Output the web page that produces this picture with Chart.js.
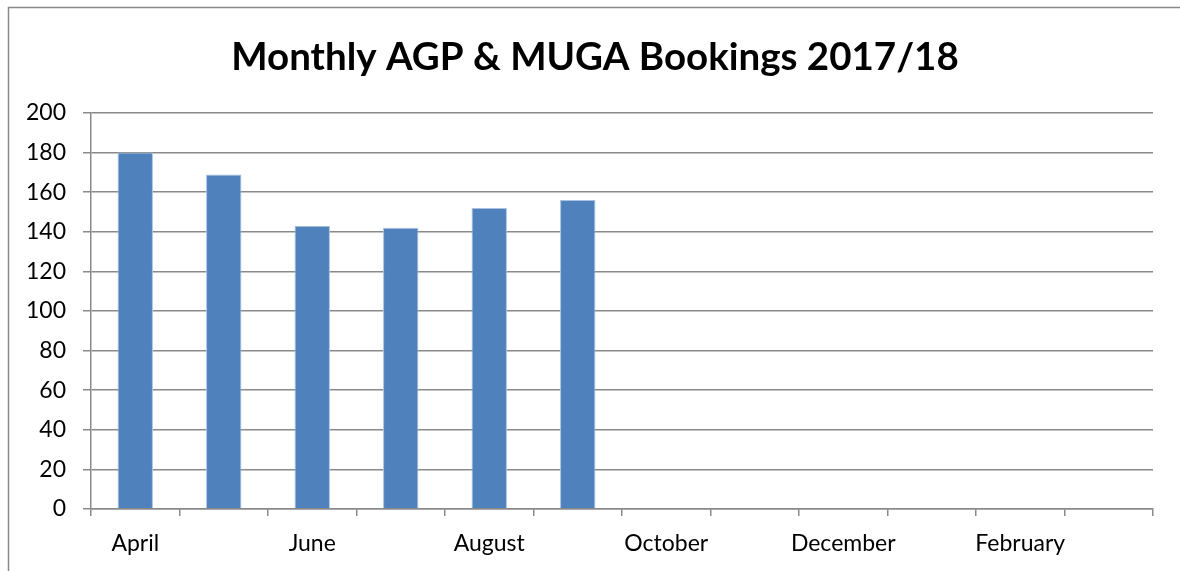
<!DOCTYPE html>
<html>
<head>
<meta charset="utf-8">
<script src="https://cdn.jsdelivr.net/npm/chart.js@4.4.0/dist/chart.umd.min.js"></script>
<style>
  html, body { margin: 0; padding: 0; background: #fff; }
  #wrap { width: 1180px; height: 571px; }
</style>
</head>
<body>
<div id="wrap"><canvas id="bookings-chart" width="1180" height="571"></canvas></div>
<script>
const titleText = 'Monthly AGP & MUGA Bookings 2017/18';
const months = ['April', 'May', 'June', 'July', 'August', 'September',
  'October', 'November', 'December', 'January', 'February', 'March'];
const bookings = [180, 169, 143, 142, 152, 156, null, null, null, null, null, null];
const yTicks = [0, 20, 40, 60, 80, 100, 120, 140, 160, 180, 200];

const gridGrey = '#8a8a8a';
const fontFamily = 'Lato, "Open Sans", sans-serif';

// outer frame + title drawn on the canvas
const framePlugin = {
  id: 'frame',
  beforeDraw(chart) {
    const ctx = chart.ctx;
    ctx.save();
    ctx.fillStyle = '#fff';
    ctx.fillRect(0, 0, chart.width, chart.height);
    ctx.strokeStyle = gridGrey;
    ctx.lineWidth = 1.5;
    ctx.strokeRect(8.5, 7.5, chart.width + 20, chart.height + 20);
    ctx.restore();
  },
  afterDraw(chart) {
    const ctx = chart.ctx;
    ctx.save();
    ctx.fillStyle = '#000';
    ctx.font = 'bold 38.5px ' + fontFamily;
    ctx.textAlign = 'center';
    ctx.textBaseline = 'alphabetic';
    ctx.fillText(titleText, 595, 70);
    ctx.restore();
  }
};

new Chart(document.getElementById('bookings-chart'), {
  type: 'bar',
  data: {
    labels: months,
    datasets: [{
      label: 'Bookings',
      data: bookings,
      backgroundColor: '#4f81bd',
      borderColor: '#a9c1df',
      borderWidth: 1,
      barPercentage: 0.4,
      categoryPercentage: 1
    }]
  },
  options: {
    responsive: false,
    animation: false,
    layout: { padding: { top: 113, right: 27, left: 0, bottom: 0 } },
    plugins: {
      legend: { display: false },
      title: { display: false },
      tooltip: { enabled: false }
    },
    scales: {
      x: {
        offset: true,
        grid: { offset: true, drawOnChartArea: false, color: gridGrey, lineWidth: 1.5, tickLength: 7 },
        border: { color: gridGrey, width: 1.5 },
        ticks: {
          autoSkip: false,
          maxRotation: 0,
          padding: 14,
          color: '#000',
          font: { family: fontFamily, size: 23 },
          callback: (v, i) => (i % 2 === 0 ? months[i] : '')
        },
        afterFit: s => { s.height = 571 - 509; }
      },
      y: {
        min: 0,
        max: 200,
        afterBuildTicks: s => { s.ticks = yTicks.map(v => ({ value: v })); },
        grid: { color: gridGrey, lineWidth: 1.5, tickLength: 8 },
        border: { color: gridGrey, width: 1.5 },
        ticks: {
          padding: 17,
          color: '#000',
          font: { family: fontFamily, size: 23 }
        },
        afterFit: s => { s.width = 91; }
      }
    }
  },
  plugins: [framePlugin]
});
</script>
</body>
</html>
